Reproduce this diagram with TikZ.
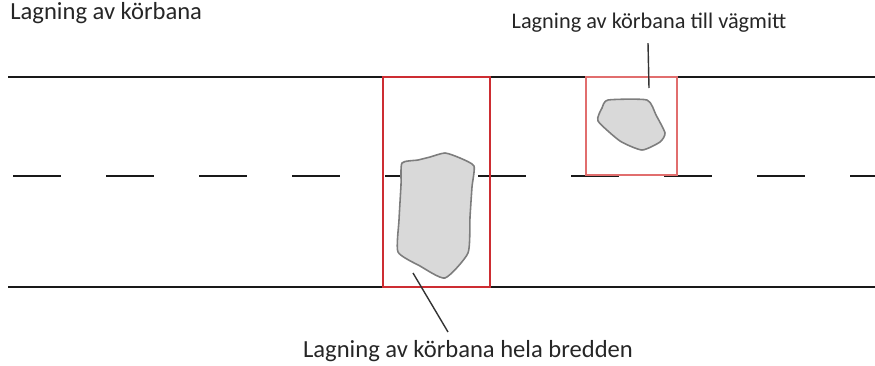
\documentclass[tikz,border=0pt]{standalone}
\usepackage{fontspec}
\setmainfont{Carlito}
\usetikzlibrary{positioning}
\definecolor{patchgray}{RGB}{217,217,217}
\definecolor{edgegray}{RGB}{125,125,125}
\definecolor{boxred}{RGB}{205,45,50}
\definecolor{lightred}{RGB}{225,110,110}
\definecolor{roadblack}{RGB}{25,25,25}

\begin{document}
\begin{tikzpicture}[x=0.02cm, y=-0.02cm,
    roadline/.style={line width=1.4pt, roadblack},
    patch/.style={fill=patchgray, draw=edgegray, line width=0.9pt, line join=round},
    leader/.style={line width=0.8pt, black!80},
    label/.style={font=\fontsize{14}{16}\selectfont, text=black!85, inner sep=0pt}]
        \useasboundingbox (0,0) rectangle (875,365);

        % Road edges
        \draw[roadline] (8,77) -- (875,77);
        \draw[roadline] (8,287) -- (875,287);

        % Centre line
        \foreach \x in {13,106,...,850} {
            \draw[roadline] (\x,176) -- ({min(\x+48,875)},176);
        }

        % Full width repair
        \draw[boxred, line width=1.4pt] (383,77) rectangle (490,287);
        \draw[patch] plot[smooth cycle, tension=0.35] coordinates {
            (402,163) (418,160) (430,157) (445,153) (460,158) (474,166)
            (472,187) (470,217) (468,253) (445,278) (420,266) (398,252)
            (399,220) (401,185)};

        % Repair to centre line
        \draw[lightred, line width=0.7pt] (586,77) rectangle (677,175);
        \draw[patch] plot[smooth cycle, tension=0.35] coordinates {
            (608,100) (647,100) (656,115) (665,133) (660,142) (642,150)
            (620,141) (598,121) (602,108)};

        % Labels
        \node[label, anchor=west] (title) at (10,13) {Lagning av körbana};
        \node[label, font=\fontsize{12.7}{15}\selectfont] (halfLbl) at (649,23) {Lagning av körbana till vägmitt};
        \node[label] (fullLbl) at (468,351) {Lagning av körbana hela bredden};

        % Leaders
        \coordinate (halfPt) at (649,88);
        \coordinate (fullPt) at (413,273);
        \draw[leader] (halfLbl.south -| 648,0) ++(0,10) coordinate (halfTop) -- (halfPt);
        \draw[leader] (fullLbl.north -| 448,0) ++(0,-8) coordinate (fullBot) -- (fullPt);
\end{tikzpicture}
\end{document}
